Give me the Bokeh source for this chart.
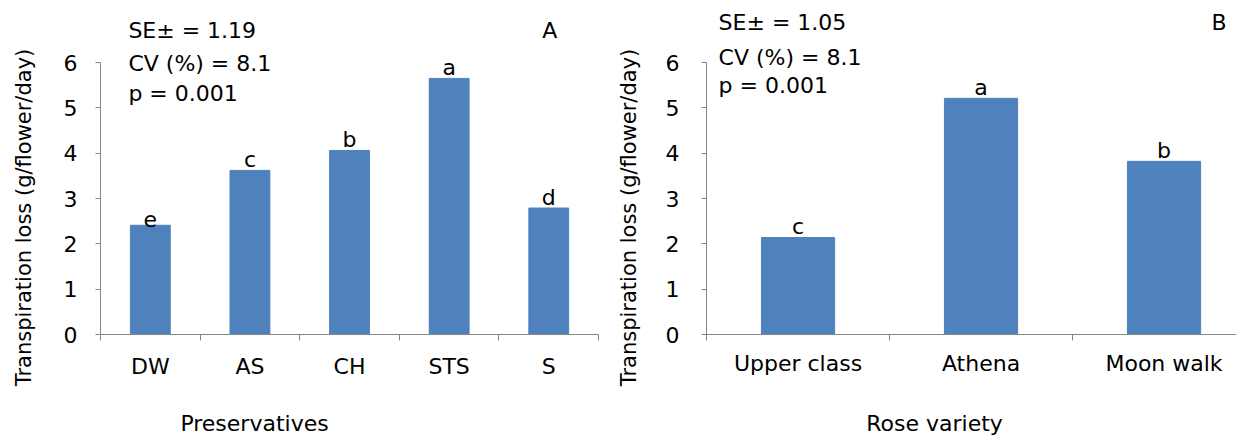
import math
from bokeh.plotting import figure
from bokeh.models import FixedTicker, Label, Range1d, ColumnDataSource
from bokeh.core.properties import value
from bokeh.layouts import row
from bokeh.embed import file_html
from bokeh.resources import INLINE

# ---- data ----
pres_cats = ["DW", "AS", "CH", "STS", "S"]
pres_vals = [2.41, 3.62, 4.06, 5.65, 2.79]
pres_letters = ["e", "c", "b", "a", "d"]
stats_a = ["SE\u00b1 = 1.19", "CV (%) = 8.1", "p = 0.001"]

var_cats = ["Upper class", "Athena", "Moon walk"]
var_vals = [2.14, 5.21, 3.82]
var_letters = ["c", "a", "b"]
stats_b = ["SE\u00b1 = 1.05", "CV (%) = 8.1", "p = 0.001"]

y_ticks = [0, 1, 2, 3, 4, 5, 6]
y_title = "Transpiration loss (g/flower/day)"

FONT = "DejaVu Sans"
FS = "22px"
AX = "#868686"
BAR = "#4F81BD"


def lab(p, x, y, text, align="left", angle=0.0, size=FS):
    p.add_layout(Label(x=x, y=y, text=text, angle=angle, text_font=FONT,
                       text_font_size=size, text_baseline="middle",
                       text_align=align, text_color="black"))


def panel(cats, vals, letters, stats, tag, xtitle, xr, stat_x, stat_y,
          tag_xy, ytitle_x, xtitle_x, yl_standoff, xl_standoff):
    n = len(cats)
    xs = [i + 0.5 for i in range(n)]
    p = figure(width=618, height=435, x_range=Range1d(*xr),
               y_range=Range1d(-2.228, 7.368), output_backend="svg",
               toolbar_location=None, min_border=0)
    p.outline_line_color = None
    p.xgrid.visible = False
    p.ygrid.visible = False

    p.vbar(x=xs, top=vals, width=0.4, fill_color=BAR, line_color=BAR)
    src = ColumnDataSource(dict(x=xs, y=vals, t=letters))
    p.text(x="x", y="y", text="t", source=src, text_align="center",
           text_baseline="bottom", y_offset=2, text_font=value(FONT),
           text_font_size=FS, text_color="black")

    ya = p.yaxis[0]
    ya.fixed_location = 0
    ya.ticker = FixedTicker(ticks=y_ticks)
    ya.bounds = (0, 6)
    ya.axis_line_color = AX
    ya.major_tick_line_color = AX
    ya.major_tick_out = 5
    ya.major_tick_in = 0
    ya.minor_tick_line_color = None
    ya.major_label_text_font = FONT
    ya.major_label_text_font_size = FS
    ya.major_label_text_color = "black"
    ya.major_label_standoff = yl_standoff

    xa = p.xaxis[0]
    xa.fixed_location = 0
    xa.ticker = FixedTicker(ticks=xs, minor_ticks=list(range(n + 1)))
    xa.bounds = (0, min(n, xr[1]))
    xa.major_label_overrides = {x: c for x, c in zip(xs, cats)}
    xa.axis_line_color = AX
    xa.major_tick_line_color = None
    xa.major_tick_out = 0
    xa.major_tick_in = 0
    xa.minor_tick_line_color = AX
    xa.minor_tick_out = 6
    xa.minor_tick_in = 0
    xa.major_label_text_font = FONT
    xa.major_label_text_font_size = FS
    xa.major_label_text_color = "black"
    xa.major_label_standoff = xl_standoff

    for s, yy in zip(stats, stat_y):
        lab(p, stat_x, yy, s)
    lab(p, tag_xy[0], tag_xy[1], tag, align="center")
    lab(p, ytitle_x, 2.58, y_title, align="center", angle=math.pi / 2,
        size="21px")
    lab(p, xtitle_x, -1.963, xtitle, align="center")
    return p


pa = panel(pres_cats, pres_vals, pres_letters, stats_a, "A", "Preservatives",
           (-1.004, 5.2), 0.28, [6.71, 5.98, 5.32], (4.51, 6.71),
           -0.773, 1.546, 18, 13)
pb = panel(var_cats, var_vals, var_letters, stats_b, "B", "Rose variety",
           (-0.481, 2.896), 0.066, [6.88, 6.11, 5.49], (2.80, 6.88),
           -0.426, 1.246, 22, 10)

layout = row(pa, pb)
open("out.html", "w").write(file_html(layout, INLINE))
